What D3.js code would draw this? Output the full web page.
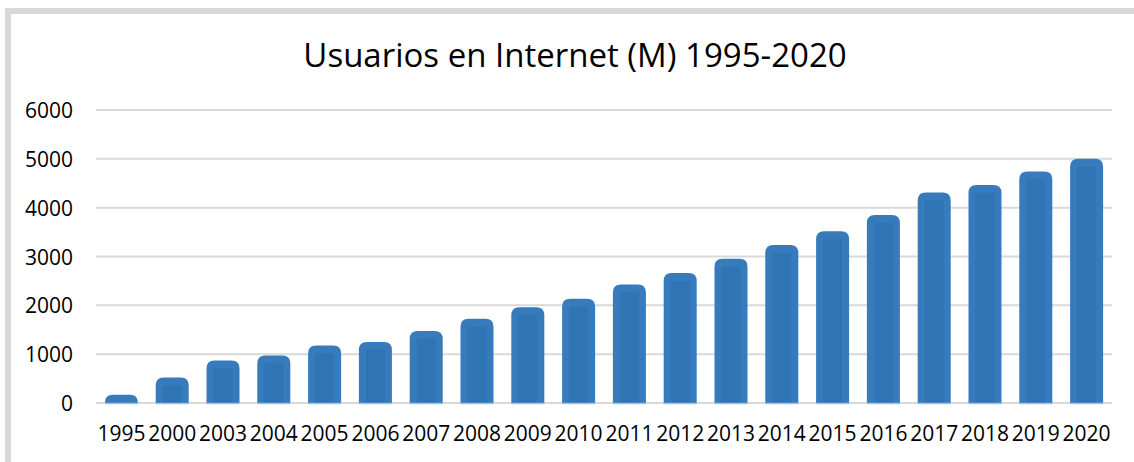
<!DOCTYPE html>
<html>
<head>
<meta charset="utf-8">
<script src="https://cdn.jsdelivr.net/npm/d3@7"></script>
<style>
  body { margin: 0; background: #fff; }
  svg text { font-family: "Open Sans", sans-serif; fill: #000; }
</style>
</head>
<body>
<div id="chart"></div>
<script>
// datos
var years = ["1995", "2000", "2003", "2004", "2005", "2006", "2007", "2008", "2009", "2010",
             "2011", "2012", "2013", "2014", "2015", "2016", "2017", "2018", "2019", "2020"];
var users = [170, 520, 870, 975, 1180, 1250, 1475, 1725, 1960, 2135,
             2425, 2660, 2955, 3235, 3515, 3850, 4310, 4465, 4740, 5000];
var yTicks = [0, 1000, 2000, 3000, 4000, 5000, 6000];
var chartTitle = "Usuarios en Internet (M) 1995-2020";

var width = 1134, height = 462;
var margin = { top: 110, right: 22, bottom: 59, left: 96 };

var svg = d3.select("#chart").append("svg")
    .attr("width", width)
    .attr("height", height);

// marco gris
svg.append("rect")
    .attr("x", 8).attr("y", 11)
    .attr("width", 1140).attr("height", 470)
    .attr("fill", "none")
    .attr("stroke", "#d9d9d9")
    .attr("stroke-width", 6);

svg.append("text")
    .attr("x", 575).attr("y", 67)
    .attr("text-anchor", "middle")
    .style("font-size", "33px")
    .text(chartTitle);

var x = d3.scaleBand()
    .domain(years)
    .range([margin.left, width - margin.right])
    .paddingInner(0.35)
    .paddingOuter(0.175);

var y = d3.scaleLinear()
    .domain([0, 6000])
    .range([height - margin.bottom, margin.top]);

// lineas de cuadricula
svg.append("g")
    .selectAll("line")
    .data(yTicks)
    .enter().append("line")
    .attr("x1", margin.left)
    .attr("x2", width - margin.right)
    .attr("y1", function (d) { return y(d); })
    .attr("y2", function (d) { return y(d); })
    .attr("stroke", "#d9d9d9")
    .attr("stroke-width", 2);

var yAxis = svg.append("g")
    .attr("transform", "translate(" + margin.left + ",0)")
    .call(d3.axisLeft(y).tickValues(yTicks).tickFormat(d3.format("d")).tickSize(0).tickPadding(23));
yAxis.select(".domain").remove();
yAxis.selectAll("text").style("font-size", "21px").attr("dy", "0.36em");

var xAxis = svg.append("g")
    .attr("transform", "translate(0," + (height - margin.bottom) + ")")
    .call(d3.axisBottom(x).tickSize(0).tickPadding(23));
xAxis.select(".domain").remove();
xAxis.selectAll("text").style("font-size", "21px");

function topRounded(x0, y0, w, h, r) {
    r = Math.min(r, h, w / 2);
    return "M" + x0 + "," + (y0 + h) +
        "V" + (y0 + r) +
        "Q" + x0 + "," + y0 + " " + (x0 + r) + "," + y0 +
        "H" + (x0 + w - r) +
        "Q" + (x0 + w) + "," + y0 + " " + (x0 + w) + "," + (y0 + r) +
        "V" + (y0 + h) + "Z";
}

var bars = svg.append("g")
    .selectAll("g")
    .data(years)
    .enter().append("g");

bars.append("path")
    .attr("d", function (d, i) {
        return topRounded(x(d), y(users[i]), x.bandwidth(), y(0) - y(users[i]), 8);
    })
    .attr("fill", "#377bbc");

bars.append("rect")
    .attr("x", function (d) { return x(d) + 7; })
    .attr("y", function (d, i) { return y(users[i]) + 8; })
    .attr("width", x.bandwidth() - 14)
    .attr("height", function (d, i) { return Math.max(0, y(0) - y(users[i]) - 8); })
    .attr("fill", "#2f74b5");

bars.append("line")
    .attr("x1", function (d) { return x(d); })
    .attr("x2", function (d) { return x(d) + x.bandwidth(); })
    .attr("y1", y(0) + 0.5)
    .attr("y2", y(0) + 0.5)
    .attr("stroke", "#9dc3e6")
    .attr("stroke-width", 1.5);
</script>
</body>
</html>
